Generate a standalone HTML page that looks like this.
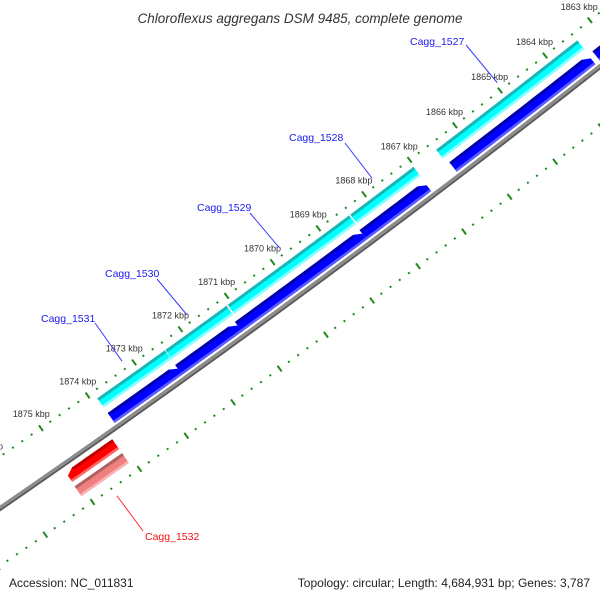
<!DOCTYPE html>
<html><head><meta charset="utf-8">
<style>
html,body{margin:0;padding:0;background:#fff;}
svg{display:block;font-family:"Liberation Sans",sans-serif;}
</style></head>
<body>
<svg id="map" width="600" height="600" viewBox="0 0 600 600" xmlns="http://www.w3.org/2000/svg">
  <rect x="0" y="0" width="600" height="600" fill="#fff"/>
  <g id="layer"></g>
  <text x="300" y="23" text-anchor="middle" font-size="13.5" font-style="italic" fill="#333">Chloroflexus aggregans DSM 9485, complete genome</text>
  <text x="9" y="587" font-size="12" fill="#222">Accession: NC_011831</text>
  <text x="590" y="587" text-anchor="end" font-size="12" fill="#222">Topology: circular; Length: 4,684,931 bp; Genes: 3,787</text>
</svg>
<script>
// ---- data (kbp) ----
const cdsStart = [1873.89, 1872.43, 1871.09, 1868.42, 1866.52];
const cdsEnd   = [1872.43, 1871.09, 1868.42, 1867.02, 1863.39];
const geneStart = [1873.89, 1872.44, 1871.15, 1868.44, 1866.47, 1863.30];
const geneEnd   = [1872.44, 1871.15, 1868.44, 1867.03, 1863.40, 1861.50];
const revGeneStart = [1875.09];
const revGeneEnd   = [1874.09];
const revCdsStart = [1875.10];
const revCdsEnd   = [1874.09];
const tickKbp = [1862,1863,1864,1865,1866,1867,1868,1869,1870,1871,1872,1873,1874,1875,1876,1877];
const tickLabels = ["1862 kbp","1863 kbp","1864 kbp","1865 kbp","1866 kbp","1867 kbp","1868 kbp","1869 kbp","1870 kbp","1871 kbp","1872 kbp","1873 kbp","1874 kbp","1875 kbp","1876 kbp","1877 kbp"];
const featureNames = ["Cagg_1527","Cagg_1528","Cagg_1529","Cagg_1530","Cagg_1531"];
const featureCenters = [1864.955, 1867.72, 1869.755, 1871.76, 1873.16];
const revNames = ["Cagg_1532"];
const revCenters = [1874.59];

// ---- geometry (layout) ----
const R = 11570, CX = -6557, CY = -9025;
const TH0 = Math.atan2(0.805, 0.593);
const PXK = 57.2;
function sOf(k){ return -9.5 - (k - 1870) * PXK; }
function P(k, d){
  const th = TH0 - sOf(k) / R, r = R + d;
  return [CX + r * Math.cos(th), CY + r * Math.sin(th)];
}
const NS = 'http://www.w3.org/2000/svg';
const layer = document.getElementById('layer');
function mk(tag, attrs){
  const e = document.createElementNS(NS, tag);
  for (const a in attrs) e.setAttribute(a, attrs[a]);
  layer.appendChild(e);
  return e;
}
function arcPts(k1, k2, d){
  const pts = [], n = 16;
  for (let i = 0; i <= n; i++){ pts.push(P(k1 + (k2 - k1) * i / n, d)); }
  return pts;
}
function band(k1, k2, d1, d2){
  return arcPts(k1, k2, d1).concat(arcPts(k2, k1, d2));
}
function ptsStr(p){ return p.map(q => q[0].toFixed(2) + ',' + q[1].toFixed(2)).join(' '); }

// arrowAt: 0 none, 1 at k2 end
function bar(k1, k2, d1, d2, cols, arrow, name){
  const dir = k2 > k1 ? 1 : -1;
  const al = 0.14;
  let body2 = arrow ? k2 - dir * al : k2;
  let poly;
  if (arrow){
    poly = arcPts(k1, body2, d1).concat([P(k2, d1 + 4.5), P(k2, d2)]).concat(arcPts(body2, k1, d2).slice(0));
    poly = arcPts(k1, body2, d1).concat([P(k2, d1 + 4.5)]).concat(arcPts(k2, k1, d2));
  } else {
    poly = band(k1, k2, d1, d2);
  }
  const m = mk('polygon', {points: ptsStr(poly), fill: cols[0]});
  
  
  const t = mk('polygon', {points: ptsStr(band(k1, body2, d1, d1 + 3)), fill: cols[1]});
  
  
  const b = mk('polygon', {points: ptsStr(band(k1, arrow ? k2 : k2, d2 - 2.5, d2)), fill: cols[2]});
  
  
}

// backbone
const bb = mk('polyline', {points: ptsStr(arcPts(1878, 1861, 2.2)), fill: 'none', stroke: '#5a5a5a', 'stroke-width': 2});


const bb2 = mk('polyline', {points: ptsStr(arcPts(1878, 1861, -0.3)), fill: 'none', stroke: '#8c8c8c', 'stroke-width': 3});



// ticks
const TU = -42, TL = 48;
for (let i = 0; i <= 80; i++){
  const k = 1861 + i * 0.2;
  const major = (i % 5 === 0);
  [TU, TL].forEach((dd, j) => {
    const h = major ? 3.5 : 1;
    const a = P(k, dd - h), b = P(k, dd + h);
    const ln = mk('line', {x1: a[0], y1: a[1], x2: b[0], y2: b[1], stroke: '#1f8a1f', 'stroke-width': 2});
    
    
  });
}
tickKbp.forEach((k, i) => {
  const p = P(k, -59);
  const t = mk('text', {x: p[0], y: p[1] + 3, 'text-anchor': 'middle', 'font-size': 9, fill: '#333'});
  t.textContent = tickLabels[i];
  
  
});

// features
const CYAN = ['#00ffff', '#1bb5b5', '#8affff'];
const BLUE = ['#0000ff', '#0000a8', '#5a5aff'];
const RED = ['#ff0000', '#c00000', '#ff6666'];
const PINK = ['#f08080', '#b06262', '#f8b4b4'];
cdsStart.forEach((k, i) => bar(k, cdsEnd[i], -34, -23, CYAN, false, 'cds-forward'));
// separators
[1872.43].forEach(k => {
  const a = P(k, -34), b = P(k, -23);
  const l = mk('line', {x1: a[0], y1: a[1], x2: b[0], y2: b[1], stroke: '#aaffff', 'stroke-width': 1});
  
  
});
[1871.09, 1868.42].forEach(k => {
  const a = P(k, -35), b = P(k, -22);
  const l = mk('line', {x1: a[0], y1: a[1], x2: b[0], y2: b[1], stroke: '#fff', 'stroke-width': 1.5});
  
  
});
geneStart.forEach((k, i) => bar(k, geneEnd[i], -16, -4, BLUE, true, 'gene-forward'));
revCdsStart.forEach((k, i) => bar(revCdsEnd[i], k, 25, 37, PINK, false, 'cds-reverse'));
revGeneStart.forEach((k, i) => bar(revGeneEnd[i], k, 8, 20, RED, true, 'gene-reverse'));

// labels
const labelPos = [[410,45,466,45],[289,141,345,143],[197,211,250,213],[105,277,157,279],[41,322,95,323]];
featureNames.forEach((n, i) => {
  const lp = labelPos[i], e = P(featureCenters[i], -50);
  const l = mk('line', {x1: lp[2], y1: lp[3], x2: e[0], y2: e[1], stroke: '#3a3aff', 'stroke-width': 1});
  
  
  const t = mk('text', {x: lp[0], y: lp[1], 'font-size': 10.5, fill: '#1a1aee'});
  t.textContent = n;
  
  
});
revNames.forEach((n, i) => {
  const e = P(revCenters[i], 57);
  const l = mk('line', {x1: e[0], y1: e[1], x2: 143, y2: 531, stroke: '#ff3030', 'stroke-width': 1});
  
  
  const t = mk('text', {x: 145, y: 540, 'font-size': 10.5, fill: '#ee1111'});
  t.textContent = n;
  
  
});
</script>
</body></html>
